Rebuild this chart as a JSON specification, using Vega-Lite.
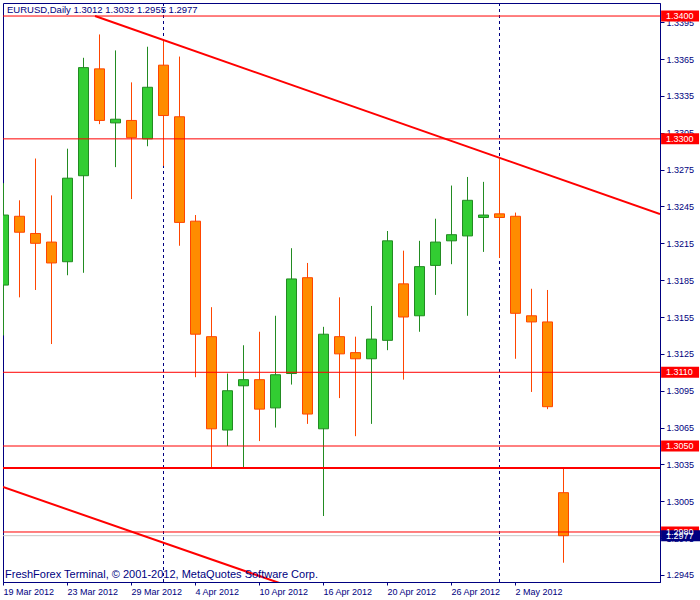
{
  "$schema": "https://vega.github.io/schema/vega-lite/v6.json",
  "width": 657,
  "height": 579,
  "autosize": {"type": "none"},
  "padding": {"left": 3, "top": 3, "right": 40, "bottom": 18},
  "background": "#FFFFFF",
  "config": {
    "view": {"stroke": "#000080", "strokeWidth": 1},
    "font": "Liberation Sans",
    "axis": {
      "grid": false, "title": null,
      "domainColor": "#000080", "tickColor": "#000080", "labelColor": "#000080",
      "labelFont": "Liberation Sans", "labelFontSize": 9,
      "labelFlush": false, "labelOverlap": false, "labelBound": false
    },
    "axisX": {"tickSize": 3, "labelPadding": 2, "labelAlign": "left", "labelBaseline": "top"},
    "axisY": {"tickSize": 4, "labelPadding": 2, "labelOverlap": false}
  },
  "datasets": {
    "candles": [
      {"d": "19 Mar", "i": 0, "o": 1.3181, "h": 1.3264, "l": 1.3140, "c": 1.3238},
      {"d": "20 Mar", "i": 1, "o": 1.3237, "h": 1.3250, "l": 1.3171, "c": 1.3224},
      {"d": "21 Mar", "i": 2, "o": 1.3223, "h": 1.3284, "l": 1.3177, "c": 1.3215},
      {"d": "22 Mar", "i": 3, "o": 1.3216, "h": 1.3254, "l": 1.3133, "c": 1.3199},
      {"d": "23 Mar", "i": 4, "o": 1.3200, "h": 1.3292, "l": 1.3189, "c": 1.3268},
      {"d": "26 Mar", "i": 5, "o": 1.3270, "h": 1.3366, "l": 1.3191, "c": 1.3358},
      {"d": "27 Mar", "i": 6, "o": 1.3357, "h": 1.3385, "l": 1.3312, "c": 1.3315},
      {"d": "28 Mar", "i": 7, "o": 1.3313, "h": 1.3372, "l": 1.3277, "c": 1.3316},
      {"d": "29 Mar", "i": 8, "o": 1.3315, "h": 1.3346, "l": 1.3251, "c": 1.3301},
      {"d": "30 Mar", "i": 9, "o": 1.3300, "h": 1.3375, "l": 1.3294, "c": 1.3342},
      {"d": "2 Apr", "i": 10, "o": 1.3360, "h": 1.3380, "l": 1.3278, "c": 1.3319},
      {"d": "3 Apr", "i": 11, "o": 1.3318, "h": 1.3367, "l": 1.3213, "c": 1.3232},
      {"d": "4 Apr", "i": 12, "o": 1.3233, "h": 1.3238, "l": 1.3106, "c": 1.3141},
      {"d": "5 Apr", "i": 13, "o": 1.3139, "h": 1.3163, "l": 1.3032, "c": 1.3064},
      {"d": "6 Apr", "i": 14, "o": 1.3063, "h": 1.3109, "l": 1.3050, "c": 1.3095},
      {"d": "9 Apr", "i": 15, "o": 1.3099, "h": 1.3132, "l": 1.3032, "c": 1.3104},
      {"d": "10 Apr", "i": 16, "o": 1.3104, "h": 1.3143, "l": 1.3054, "c": 1.3080},
      {"d": "11 Apr", "i": 17, "o": 1.3081, "h": 1.3156, "l": 1.3065, "c": 1.3108},
      {"d": "12 Apr", "i": 18, "o": 1.3109, "h": 1.3211, "l": 1.3100, "c": 1.3186},
      {"d": "13 Apr", "i": 19, "o": 1.3187, "h": 1.3199, "l": 1.3068, "c": 1.3076},
      {"d": "16 Apr", "i": 20, "o": 1.3064, "h": 1.3147, "l": 1.2993, "c": 1.3141},
      {"d": "17 Apr", "i": 21, "o": 1.3139, "h": 1.3171, "l": 1.3089, "c": 1.3125},
      {"d": "18 Apr", "i": 22, "o": 1.3126, "h": 1.3139, "l": 1.3058, "c": 1.3121},
      {"d": "19 Apr", "i": 23, "o": 1.3121, "h": 1.3164, "l": 1.3068, "c": 1.3137},
      {"d": "20 Apr", "i": 24, "o": 1.3136, "h": 1.3225, "l": 1.3128, "c": 1.3217},
      {"d": "23 Apr", "i": 25, "o": 1.3182, "h": 1.3209, "l": 1.3104, "c": 1.3155},
      {"d": "24 Apr", "i": 26, "o": 1.3156, "h": 1.3217, "l": 1.3143, "c": 1.3196},
      {"d": "25 Apr", "i": 27, "o": 1.3197, "h": 1.3235, "l": 1.3173, "c": 1.3216},
      {"d": "26 Apr", "i": 28, "o": 1.3217, "h": 1.3262, "l": 1.3198, "c": 1.3222},
      {"d": "27 Apr", "i": 29, "o": 1.3221, "h": 1.3269, "l": 1.3156, "c": 1.3250},
      {"d": "30 Apr", "i": 30, "o": 1.3236, "h": 1.3265, "l": 1.3208, "c": 1.3238},
      {"d": "1 May", "i": 31, "o": 1.3239, "h": 1.3284, "l": 1.3203, "c": 1.3236},
      {"d": "2 May", "i": 32, "o": 1.3237, "h": 1.3240, "l": 1.3121, "c": 1.3158},
      {"d": "3 May", "i": 33, "o": 1.3156, "h": 1.3178, "l": 1.3094, "c": 1.3151},
      {"d": "4 May", "i": 34, "o": 1.3151, "h": 1.3177, "l": 1.3080, "c": 1.3082},
      {"d": "7 May", "i": 35, "o": 1.3012, "h": 1.3032, "l": 1.2955, "c": 1.2977}
    ],
    "separators": [{"i": 10}, {"i": 31}],
    "levels": [{"v": 1.3400}, {"v": 1.3300}, {"v": 1.3110}, {"v": 1.3050}, {"v": 1.2980}],
    "thick": [{"v": 1.3032}],
    "bid": [{"v": 1.2977}],
    "trend": [
      {"t": "upper", "i": 5.75, "p": 1.3400},
      {"t": "upper", "i": 41.0625, "p": 1.32388},
      {"t": "lower", "i": 0, "p": 1.30166},
      {"t": "lower", "i": 17.3, "p": 1.29384}
    ],
    "redlabels": [
      {"v": 1.3400, "t": "1.3400"},
      {"v": 1.3300, "t": "1.3300"},
      {"v": 1.3110, "t": "1.3110"},
      {"v": 1.3050, "t": "1.3050"},
      {"v": 1.2980, "t": "1.2980"}
    ],
    "bidlabel": [{"v": 1.2977, "t": "1.2977"}]
  },
  "layer": [
    {
      "data": {"name": "separators"},
      "mark": {"type": "rule", "color": "#000080", "strokeWidth": 1, "strokeDash": [3, 3], "xOffset": 0.5},
      "encoding": {
        "x": {
          "field": "i", "type": "quantitative", "title": null,
          "scale": {"domain": [0, 41.0625], "nice": false, "zero": false, "padding": 0},
          "axis": {
            "values": [0, 4, 8, 12, 16, 20, 24, 28, 32],
            "labelExpr": "['19 Mar 2012','23 Mar 2012','29 Mar 2012','4 Apr 2012','10 Apr 2012','16 Apr 2012','20 Apr 2012','26 Apr 2012','2 May 2012'][round(datum.value/4)]",
            "labelAlign": "left", "labelBaseline": "top", "labelFlush": false, "labelOverlap": false, "labelBound": false,
            "tickSize": 3, "labelPadding": 2, "title": null, "grid": false
          }
        }
      }
    },
    {
      "data": {"name": "bid"},
      "mark": {"type": "rule", "color": "#C8C8C8", "strokeWidth": 1},
      "encoding": {
        "y": {
          "field": "v", "type": "quantitative", "title": null,
          "scale": {"domain": [1.29393, 1.34106], "nice": false, "zero": false, "padding": 0},
          "axis": {"orient": "right", "values": [1.2945, 1.2975, 1.3005, 1.3035, 1.3065, 1.3095, 1.3125, 1.3155, 1.3185, 1.3215, 1.3245, 1.3275, 1.3305, 1.3335, 1.3365, 1.3395], "format": ".4f", "tickSize": 4, "labelPadding": 2, "title": null, "grid": false, "labelFlush": false, "labelOverlap": false, "labelBound": false}
        }
      }
    },
    {
      "data": {"name": "candles"},
      "mark": {"type": "rule", "strokeWidth": 1, "xOffset": 0.5, "clip": true},
      "encoding": {
        "x": {"field": "i", "type": "quantitative", "title": null, "scale": {"domain": [0, 41.0625], "nice": false, "zero": false, "padding": 0}},
        "y": {"field": "l", "type": "quantitative", "title": null, "scale": {"domain": [1.29393, 1.34106], "nice": false, "zero": false, "padding": 0},
          "axis": {"orient": "right", "values": [1.2945, 1.2975, 1.3005, 1.3035, 1.3065, 1.3095, 1.3125, 1.3155, 1.3185, 1.3215, 1.3245, 1.3275, 1.3305, 1.3335, 1.3365, 1.3395], "format": ".4f", "tickSize": 4, "labelPadding": 2, "title": null, "grid": false, "labelFlush": false, "labelOverlap": false, "labelBound": false}},
        "y2": {"field": "h"},
        "color": {"condition": {"test": "datum.c >= datum.o", "value": "#228B22"}, "value": "#FF4500"}
      }
    },
    {
      "data": {"name": "candles"},
      "mark": {"type": "bar", "size": 10, "strokeWidth": 1, "xOffset": 0.5, "clip": true},
      "encoding": {
        "x": {"field": "i", "type": "quantitative", "title": null, "scale": {"domain": [0, 41.0625], "nice": false, "zero": false, "padding": 0}},
        "y": {"field": "o", "type": "quantitative", "title": null, "scale": {"domain": [1.29393, 1.34106], "nice": false, "zero": false, "padding": 0},
          "axis": {"orient": "right", "values": [1.2945, 1.2975, 1.3005, 1.3035, 1.3065, 1.3095, 1.3125, 1.3155, 1.3185, 1.3215, 1.3245, 1.3275, 1.3305, 1.3335, 1.3365, 1.3395], "format": ".4f", "tickSize": 4, "labelPadding": 2, "title": null, "grid": false, "labelFlush": false, "labelOverlap": false, "labelBound": false}},
        "y2": {"field": "c"},
        "fill": {"condition": {"test": "datum.c >= datum.o", "value": "#32CD32"}, "value": "#FF8C00"},
        "stroke": {"condition": {"test": "datum.c >= datum.o", "value": "#228B22"}, "value": "#FF4500"}
      }
    },
    {
      "data": {"name": "levels"},
      "mark": {"type": "rule", "color": "#FF0000", "strokeWidth": 1},
      "encoding": {
        "y": {"field": "v", "type": "quantitative", "title": null, "scale": {"domain": [1.29393, 1.34106], "nice": false, "zero": false, "padding": 0},
          "axis": {"orient": "right", "values": [1.2945, 1.2975, 1.3005, 1.3035, 1.3065, 1.3095, 1.3125, 1.3155, 1.3185, 1.3215, 1.3245, 1.3275, 1.3305, 1.3335, 1.3365, 1.3395], "format": ".4f", "tickSize": 4, "labelPadding": 2, "title": null, "grid": false, "labelFlush": false, "labelOverlap": false, "labelBound": false}}
      }
    },
    {
      "data": {"name": "thick"},
      "mark": {"type": "rule", "color": "#FF0000", "strokeWidth": 2},
      "encoding": {
        "y": {"field": "v", "type": "quantitative", "title": null, "scale": {"domain": [1.29393, 1.34106], "nice": false, "zero": false, "padding": 0},
          "axis": {"orient": "right", "values": [1.2945, 1.2975, 1.3005, 1.3035, 1.3065, 1.3095, 1.3125, 1.3155, 1.3185, 1.3215, 1.3245, 1.3275, 1.3305, 1.3335, 1.3365, 1.3395], "format": ".4f", "tickSize": 4, "labelPadding": 2, "title": null, "grid": false, "labelFlush": false, "labelOverlap": false, "labelBound": false}}
      }
    },
    {
      "data": {"name": "trend"},
      "mark": {"type": "line", "color": "#FF0000", "strokeWidth": 2, "clip": true},
      "encoding": {
        "x": {"field": "i", "type": "quantitative", "title": null, "scale": {"domain": [0, 41.0625], "nice": false, "zero": false, "padding": 0}},
        "y": {"field": "p", "type": "quantitative", "title": null, "scale": {"domain": [1.29393, 1.34106], "nice": false, "zero": false, "padding": 0},
          "axis": {"orient": "right", "values": [1.2945, 1.2975, 1.3005, 1.3035, 1.3065, 1.3095, 1.3125, 1.3155, 1.3185, 1.3215, 1.3245, 1.3275, 1.3305, 1.3335, 1.3365, 1.3395], "format": ".4f", "tickSize": 4, "labelPadding": 2, "title": null, "grid": false, "labelFlush": false, "labelOverlap": false, "labelBound": false}},
        "detail": {"field": "t"}
      }
    },
    {
      "data": {"name": "redlabels"},
      "mark": {"type": "point", "filled": true, "opacity": 1, "color": "#FF0000", "size": 121, "shape": "M0.2,-1H7.1V1H0.2Z", "strokeWidth": 0},
      "encoding": {
        "x": {"datum": 41.0625, "type": "quantitative", "title": null, "scale": {"domain": [0, 41.0625], "nice": false, "zero": false, "padding": 0}},
        "y": {"field": "v", "type": "quantitative", "title": null, "scale": {"domain": [1.29393, 1.34106], "nice": false, "zero": false, "padding": 0},
          "axis": {"orient": "right", "values": [1.2945, 1.2975, 1.3005, 1.3035, 1.3065, 1.3095, 1.3125, 1.3155, 1.3185, 1.3215, 1.3245, 1.3275, 1.3305, 1.3335, 1.3365, 1.3395], "format": ".4f", "tickSize": 4, "labelPadding": 2, "title": null, "grid": false, "labelFlush": false, "labelOverlap": false, "labelBound": false}}
      }
    },
    {
      "data": {"name": "bidlabel"},
      "mark": {"type": "point", "filled": true, "opacity": 1, "color": "#000080", "size": 121, "shape": "M0.2,-1H7.3V1H0.2Z", "strokeWidth": 0},
      "encoding": {
        "x": {"datum": 41.0625, "type": "quantitative", "title": null, "scale": {"domain": [0, 41.0625], "nice": false, "zero": false, "padding": 0}},
        "y": {"field": "v", "type": "quantitative", "title": null, "scale": {"domain": [1.29393, 1.34106], "nice": false, "zero": false, "padding": 0},
          "axis": {"orient": "right", "values": [1.2945, 1.2975, 1.3005, 1.3035, 1.3065, 1.3095, 1.3125, 1.3155, 1.3185, 1.3215, 1.3245, 1.3275, 1.3305, 1.3335, 1.3365, 1.3395], "format": ".4f", "tickSize": 4, "labelPadding": 2, "title": null, "grid": false, "labelFlush": false, "labelOverlap": false, "labelBound": false}}
      }
    },
    {
      "data": {"name": "redlabels"},
      "mark": {"type": "text", "color": "#FFFFFF", "align": "left", "baseline": "middle", "dx": 6, "font": "Liberation Sans", "fontSize": 9},
      "encoding": {
        "x": {"datum": 41.0625, "type": "quantitative", "title": null, "scale": {"domain": [0, 41.0625], "nice": false, "zero": false, "padding": 0}},
        "y": {"field": "v", "type": "quantitative", "title": null, "scale": {"domain": [1.29393, 1.34106], "nice": false, "zero": false, "padding": 0},
          "axis": {"orient": "right", "values": [1.2945, 1.2975, 1.3005, 1.3035, 1.3065, 1.3095, 1.3125, 1.3155, 1.3185, 1.3215, 1.3245, 1.3275, 1.3305, 1.3335, 1.3365, 1.3395], "format": ".4f", "tickSize": 4, "labelPadding": 2, "title": null, "grid": false, "labelFlush": false, "labelOverlap": false, "labelBound": false}},
        "text": {"field": "t"}
      }
    },
    {
      "data": {"name": "bidlabel"},
      "mark": {"type": "text", "color": "#FFFFFF", "align": "left", "baseline": "middle", "dx": 6, "font": "Liberation Sans", "fontSize": 9},
      "encoding": {
        "x": {"datum": 41.0625, "type": "quantitative", "title": null, "scale": {"domain": [0, 41.0625], "nice": false, "zero": false, "padding": 0}},
        "y": {"field": "v", "type": "quantitative", "title": null, "scale": {"domain": [1.29393, 1.34106], "nice": false, "zero": false, "padding": 0},
          "axis": {"orient": "right", "values": [1.2945, 1.2975, 1.3005, 1.3035, 1.3065, 1.3095, 1.3125, 1.3155, 1.3185, 1.3215, 1.3245, 1.3275, 1.3305, 1.3335, 1.3365, 1.3395], "format": ".4f", "tickSize": 4, "labelPadding": 2, "title": null, "grid": false, "labelFlush": false, "labelOverlap": false, "labelBound": false}},
        "text": {"field": "t"}
      }
    },
    {
      "data": {"values": [{"t": "EURUSD,Daily  1.3012 1.3032 1.2955 1.2977"}]},
      "mark": {"type": "text", "color": "#000080", "align": "left", "baseline": "middle", "font": "Liberation Sans", "fontSize": 9.5},
      "encoding": {
        "x": {"datum": 0.25, "type": "quantitative", "title": null, "scale": {"domain": [0, 41.0625], "nice": false, "zero": false, "padding": 0}},
        "y": {"datum": 1.34049, "type": "quantitative", "title": null, "scale": {"domain": [1.29393, 1.34106], "nice": false, "zero": false, "padding": 0},
          "axis": {"orient": "right", "values": [1.2945, 1.2975, 1.3005, 1.3035, 1.3065, 1.3095, 1.3125, 1.3155, 1.3185, 1.3215, 1.3245, 1.3275, 1.3305, 1.3335, 1.3365, 1.3395], "format": ".4f", "tickSize": 4, "labelPadding": 2, "title": null, "grid": false, "labelFlush": false, "labelOverlap": false, "labelBound": false}},
        "text": {"field": "t"}
      }
    },
    {
      "data": {"values": [{"t": "FreshForex Terminal, © 2001-2012, MetaQuotes Software Corp."}]},
      "mark": {"type": "text", "color": "#000080", "align": "left", "baseline": "middle", "font": "Liberation Sans", "fontSize": 11},
      "encoding": {
        "x": {"datum": 0.125, "type": "quantitative", "title": null, "scale": {"domain": [0, 41.0625], "nice": false, "zero": false, "padding": 0}},
        "y": {"datum": 1.2945, "type": "quantitative", "title": null, "scale": {"domain": [1.29393, 1.34106], "nice": false, "zero": false, "padding": 0},
          "axis": {"orient": "right", "values": [1.2945, 1.2975, 1.3005, 1.3035, 1.3065, 1.3095, 1.3125, 1.3155, 1.3185, 1.3215, 1.3245, 1.3275, 1.3305, 1.3335, 1.3365, 1.3395], "format": ".4f", "tickSize": 4, "labelPadding": 2, "title": null, "grid": false, "labelFlush": false, "labelOverlap": false, "labelBound": false}},
        "text": {"field": "t"}
      }
    }
  ]
}
